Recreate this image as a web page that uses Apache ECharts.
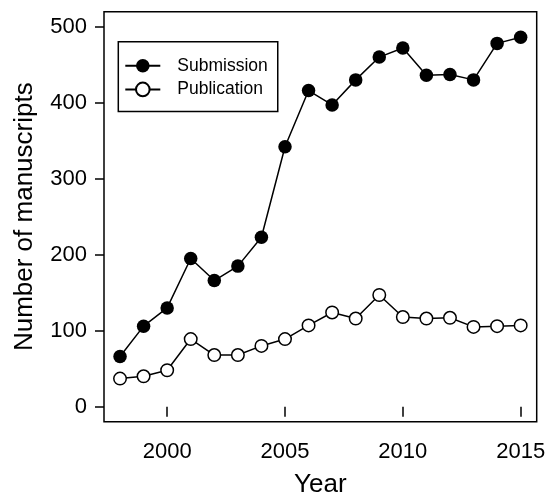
<!DOCTYPE html>
<html>
<head>
<meta charset="utf-8">
<script src="https://cdn.jsdelivr.net/npm/echarts@6/dist/echarts.min.js"></script>
<style>
html,body{margin:0;padding:0;background:#fff;}
#c{width:547px;height:494px;}
</style>
</head>
<body>
<div id="c"></div>
<script>
var years = [1998,1999,2000,2001,2002,2003,2004,2005,2006,2007,2008,2009,2010,2011,2012,2013,2014,2015];
var submission = [66,106,130,195,166,185,223,342,416,397,430,460,472,436,437,430,478,486];
var publication = [37,40,48,89,68,68,80,89,107,124,116,147,118,116,117,105,106,107];
var xTicks = [2000,2005,2010,2015];
var yTicks = [0,100,200,300,400,500];

var FONT = '"Liberation Sans", Arial, Helvetica, sans-serif';
function pairs(vals){ return years.map(function(y,i){ return [y, vals[i]]; }); }

var chart = echarts.init(document.getElementById('c'), null, {renderer:'canvas'});
chart.setOption({
  animation:false,
  backgroundColor:'#fff',
  grid:{left:104, top:11.7, right:10.3, bottom:72.3, show:true, borderColor:'#000', borderWidth:1.5,
        containLabel:false, outerBoundsMode:'none'},
  xAxis:{
    type:'value', min:1997.32, max:2015.68,
    name:'Year', nameLocation:'middle', nameGap:50,
    nameTextStyle:{fontFamily:FONT, fontSize:26, color:'#000'},
    axisLine:{show:false},
    splitLine:{show:false},
    axisTick:{show:true, length:10, lineStyle:{color:'#000', width:1.5}, customValues:xTicks},
    axisLabel:{show:true, margin:19, fontFamily:FONT, fontSize:22, color:'#000', customValues:xTicks,
      formatter:function(v){ return String(Math.round(v)); }}
  },
  yAxis:{
    type:'value', min:-19.7, max:519.7,
    name:'Number of manuscripts', nameLocation:'middle', nameGap:66, nameRotate:90,
    nameTextStyle:{fontFamily:FONT, fontSize:26, color:'#000'},
    axisLine:{show:false},
    splitLine:{show:false},
    axisTick:{show:true, length:9, lineStyle:{color:'#000', width:1.5}, customValues:yTicks},
    axisLabel:{show:true, margin:17, fontFamily:FONT, fontSize:22, color:'#000', customValues:yTicks,
      formatter:function(v){ return String(Math.round(v)); }}
  },
  legend:{
    orient:'vertical', left:118.3, top:41.7,
    padding:[15,10,13,6],
    borderColor:'#000', borderWidth:1.5, backgroundColor:'#fff',
    itemWidth:35, itemHeight:17, itemGap:5.7,
    textStyle:{fontFamily:FONT, fontSize:17.5, color:'#000', padding:[0,0,0,12]},
    data:['Submission','Publication']
  },
  series:[
    {name:'Submission', type:'line', data:pairs(submission), symbol:'circle', symbolSize:13.5,
     lineStyle:{color:'#000', width:1.5}, itemStyle:{color:'#000', borderColor:'#000', borderWidth:0}, z:3},
    {name:'Publication', type:'line', data:pairs(publication), symbol:'circle', symbolSize:12.5,
     lineStyle:{color:'#000', width:1.5}, itemStyle:{color:'#fff', borderColor:'#000', borderWidth:1.5}, z:3}
  ]
});
</script>
</body>
</html>
